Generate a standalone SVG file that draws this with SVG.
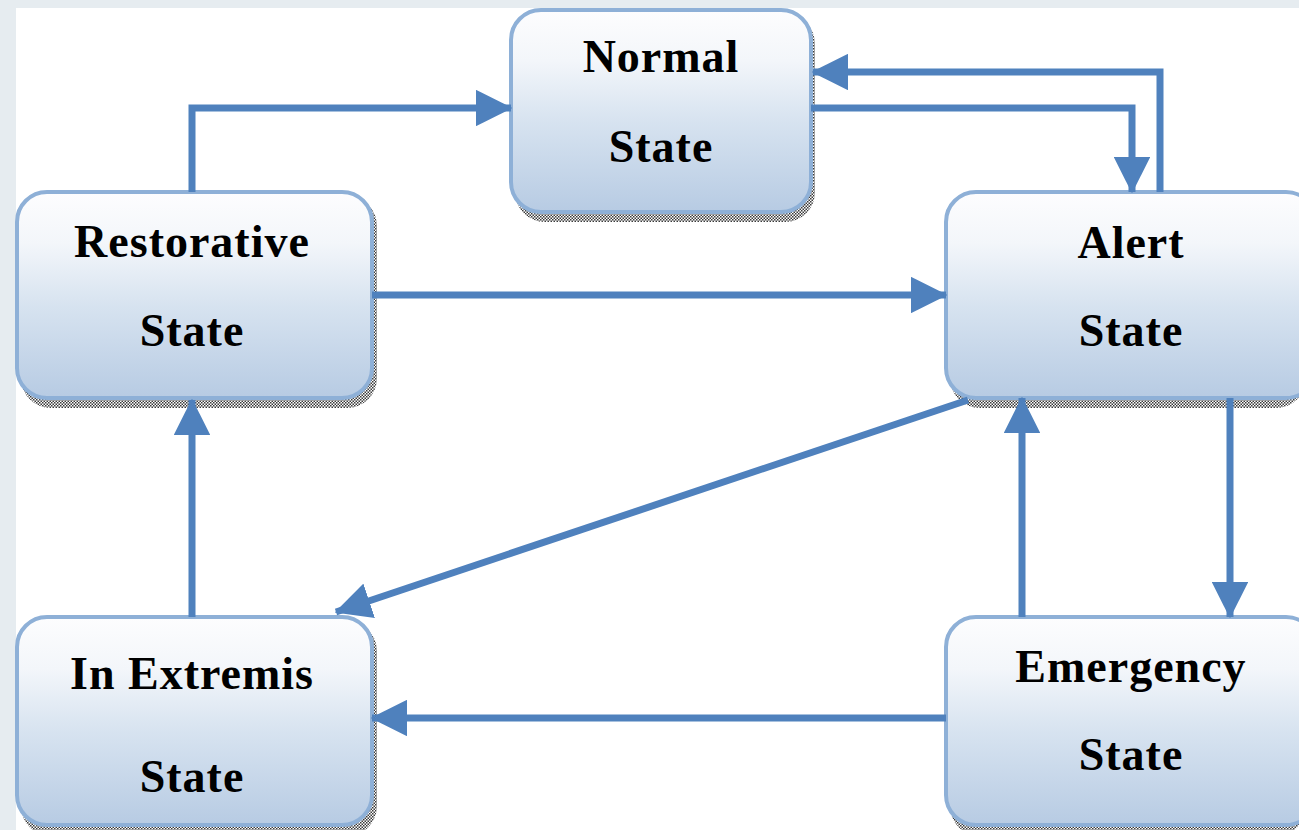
<svg xmlns="http://www.w3.org/2000/svg" width="1299" height="830" viewBox="0 0 1299 830">
<defs>
<linearGradient id="g" x1="0" y1="0" x2="0" y2="1">
<stop offset="0" stop-color="#fdfdfe"/>
<stop offset="0.25" stop-color="#f3f6fa"/>
<stop offset="0.55" stop-color="#d7e3f0"/>
<stop offset="1" stop-color="#b7cbe3"/>
</linearGradient>
<pattern id="chk" width="3" height="3" patternUnits="userSpaceOnUse">
<rect width="3" height="3" fill="#ffffff"/>
<rect width="1.5" height="1.5" fill="#3a3a3a"/>
<rect x="1.5" y="1.5" width="1.5" height="1.5" fill="#3a3a3a"/>
</pattern>
<marker id="ah" markerWidth="5.2" markerHeight="5.2" refX="5" refY="2.6" orient="auto" markerUnits="strokeWidth">
<path d="M0,0 L5.2,2.6 L0,5.2 Z" fill="#4f81bd"/>
</marker>
</defs>
<style>
.shadow{fill:url(#chk);}
.box{fill:url(#g);stroke:#8eb0d7;stroke-width:4;}
.t{font-family:"Liberation Serif","Times New Roman",serif;font-weight:bold;font-size:46px;letter-spacing:1px;fill:#000;text-anchor:middle;}
.c{fill:none;stroke:#4f81bd;stroke-width:7;marker-end:url(#ah);}
</style>
<rect x="0" y="0" width="1299" height="830" fill="#e6ecf0"/>
<rect x="16" y="8" width="1283" height="822" fill="#ffffff"/>

<g id="normal">
<rect class="shadow" x="515" y="14" width="300" height="208" rx="30"/>
<rect class="box" x="511" y="10" width="300" height="202" rx="30"/>
<text class="t" x="661" y="72">Normal</text>
<text class="t" x="661" y="162">State</text>
</g>
<g id="restorative">
<rect class="shadow" x="21" y="196" width="356" height="212" rx="30"/>
<rect class="box" x="17" y="192" width="355" height="206" rx="30"/>
<text class="t" x="192" y="257">Restorative</text>
<text class="t" x="192" y="346">State</text>
</g>
<g id="alert">
<rect class="shadow" x="950" y="196" width="356" height="212" rx="30"/>
<rect class="box" x="946" y="192" width="370" height="206" rx="30"/>
<text class="t" x="1131" y="258">Alert</text>
<text class="t" x="1131" y="346">State</text>
</g>
<g id="inextremis">
<rect class="shadow" x="21" y="621" width="356" height="215" rx="30"/>
<rect class="box" x="17" y="617" width="355" height="208" rx="30"/>
<text class="t" x="192" y="689">In Extremis</text>
<text class="t" x="192" y="792">State</text>
</g>
<g id="emergency">
<rect class="shadow" x="950" y="621" width="356" height="215" rx="30"/>
<rect class="box" x="946" y="617" width="370" height="208" rx="30"/>
<text class="t" x="1131" y="682">Emergency</text>
<text class="t" x="1131" y="770">State</text>
</g>

<g id="connectors">
<path class="c" d="M192,192 V108 H511"/>
<path class="c" d="M1160,192 V72 H813"/>
<path class="c" d="M811,108 H1132 V192"/>
<path class="c" d="M372,295 H946"/>
<path class="c" d="M968,400 L336,612"/>
<path class="c" d="M1022,617 V398"/>
<path class="c" d="M1230,398 V617"/>
<path class="c" d="M946,718 H372"/>
<path class="c" d="M192,617 V400"/>
</g>
</svg>
